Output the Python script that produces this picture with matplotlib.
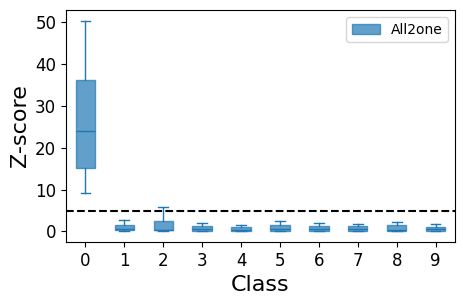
import matplotlib
matplotlib.use("Agg")
import matplotlib.pyplot as plt
from matplotlib.patches import Patch

classes = [0, 1, 2, 3, 4, 5, 6, 7, 8, 9]
whislo = [9.3, 0.0, 0.0, 0.0, 0.0, 0.0, 0.0, 0.0, 0.0, 0.0]
q1 = [15.2, 0.3, 0.3, 0.15, 0.15, 0.15, 0.15, 0.15, 0.1, 0.15]
med = [24.0, 0.65, 0.4, 0.5, 0.4, 0.6, 0.6, 0.6, 0.4, 0.55]
q3 = [36.2, 1.6, 2.6, 1.3, 0.95, 1.45, 1.2, 1.3, 1.45, 1.1]
whishi = [50.4, 2.8, 5.75, 2.0, 1.45, 2.4, 2.1, 1.9, 2.15, 1.85]
threshold = 5
label = "All2one"

stats = []
for i in range(len(classes)):
    stats.append(dict(whislo=whislo[i], q1=q1[i], med=med[i], q3=q3[i],
                      whishi=whishi[i], fliers=[]))

fig = plt.figure(figsize=(4.63, 3.04), dpi=100)
ax = fig.add_axes([66/463, 1-242/304, (455-66)/463, (242-10)/304])

c = "#1f77b4"
ax.bxp(stats, positions=classes, widths=0.5, patch_artist=True, showfliers=False,
       boxprops=dict(facecolor=c, edgecolor=c, alpha=0.7),
       whiskerprops=dict(color=c), capprops=dict(color=c),
       medianprops=dict(color=c))
ax.axhline(threshold, color="black", linestyle="--", linewidth=1.5)
ax.set_xlim(-0.5, 9.5)
ax.set_xticks(classes)
ax.set_xticklabels([str(k) for k in classes])
ax.set_yticks([0, 10, 20, 30, 40, 50])
ax.tick_params(labelsize=12)
ax.set_xlabel("Class", fontsize=16)
ax.set_ylabel("Z-score", fontsize=16)
ax.legend(handles=[Patch(facecolor=c, edgecolor=c, alpha=0.7, label=label)],
          loc="upper right", fontsize=10)
fig.savefig("out.png", dpi=100)
